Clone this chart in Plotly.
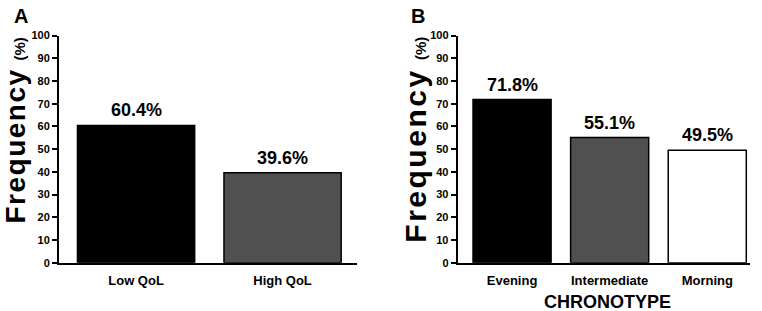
import plotly.graph_objects as go

# Data
qol_categories = ["Low QoL", "High QoL"]
qol_values = [60.4, 39.6]
qol_colors = ["#000000", "#505050"]

chrono_categories = ["Evening", "Intermediate", "Morning"]
chrono_values = [71.8, 55.1, 49.5]
chrono_colors = ["#000000", "#505050", "#ffffff"]

y_ticks = list(range(0, 101, 10))

W, H = 762, 311
FONT = "Liberation Sans"


def px_x(p):
    return p / W


def px_y(p):
    return 1 - p / H


fig = go.Figure()

fig.add_trace(go.Bar(
    x=qol_categories, y=qol_values, width=0.8,
    marker=dict(color=qol_colors, line=dict(color="#000000", width=1.5)),
    xaxis="x", yaxis="y", showlegend=False, hoverinfo="skip",
))
fig.add_trace(go.Bar(
    x=chrono_categories, y=chrono_values, width=0.8,
    marker=dict(color=chrono_colors, line=dict(color="#000000", width=1.5)),
    xaxis="x2", yaxis="y2", showlegend=False, hoverinfo="skip",
))

y_bottom, y_top = 267, 30.7
ydom = [px_y(y_bottom), px_y(y_top)]

tickfont = dict(family=FONT, size=11, color="#000000")
catfont = dict(family=FONT, size=13, color="#000000")

common_y = dict(
    range=[0, 100], tickvals=y_ticks, ticktext=[f"<b>{t}</b>" for t in y_ticks],
    showgrid=False, zeroline=False,
    showline=True, linecolor="#000000", linewidth=2,
    ticks="outside", ticklen=5, tickwidth=2, tickcolor="#000000",
    tickfont=tickfont, fixedrange=True,
)
common_x = dict(
    showgrid=False, zeroline=False, showline=True, linecolor="#000000",
    linewidth=2, ticks="", tickfont=catfont, fixedrange=True,
    ticklabelstandoff=5,
)

fig.update_layout(
    width=W, height=H,
    margin=dict(l=0, r=0, t=0, b=0),
    paper_bgcolor="#ffffff", plot_bgcolor="#ffffff",
    xaxis=dict(domain=[px_x(59), px_x(357)], range=[-0.526, 1.508],
               anchor="y", tickvals=qol_categories,
               ticktext=[f"<b>{c}</b>" for c in qol_categories], **common_x),
    yaxis=dict(domain=ydom, anchor="x", **common_y),
    xaxis2=dict(domain=[px_x(457.7), px_x(750)], range=[-0.557, 2.438],
                anchor="y2", tickvals=chrono_categories,
                ticktext=[f"<b>{c}</b>" for c in chrono_categories], **common_x),
    yaxis2=dict(domain=ydom, anchor="x2", **common_y),
    bargap=0.2,
)

annotations = []
for cats, vals, xr, yr in [(qol_categories, qol_values, "x", "y"),
                           (chrono_categories, chrono_values, "x2", "y2")]:
    for c, v in zip(cats, vals):
        annotations.append(dict(
            x=c, y=v, xref=xr, yref=yr, text=f"<b>{v:.1f}%</b>", showarrow=False,
            yanchor="bottom", yshift=3,
            font=dict(family=FONT, size=18, color="#000000"),
        ))

# Panel letters
annotations.append(dict(x=px_x(20.5), y=px_y(10), xref="paper", yref="paper",
                        text="<b>A</b>", showarrow=False,
                        xanchor="center", yanchor="middle",
                        font=dict(family=FONT, size=20, color="#000000")))
annotations.append(dict(x=px_x(418), y=px_y(10), xref="paper", yref="paper",
                        text="<b>B</b>", showarrow=False,
                        xanchor="center", yanchor="middle",
                        font=dict(family=FONT, size=20, color="#000000")))

# Y titles
def ytitle(spacing):
    return (f"<span style='letter-spacing:{spacing}px'><b>Frequency</b></span> "
            "<b><span style='font-size:15px'>(%)</span></b>")


annotations.append(dict(x=px_x(15.5), y=px_y(130), xref="paper", yref="paper",
                        text=ytitle(1.5), showarrow=False, textangle=-90,
                        xanchor="center", yanchor="middle",
                        font=dict(family=FONT, size=28, color="#000000")))
annotations.append(dict(x=px_x(416), y=px_y(139), xref="paper", yref="paper",
                        text=ytitle(2.5), showarrow=False, textangle=-90,
                        xanchor="center", yanchor="middle",
                        font=dict(family=FONT, size=30, color="#000000")))

# X title for panel B
annotations.append(dict(x=px_x(607), y=px_y(308), xref="paper", yref="paper",
                        text="<b>CHRONOTYPE</b>", showarrow=False,
                        xanchor="center", yanchor="middle",
                        font=dict(family=FONT, size=18, color="#000000")))

fig.update_layout(annotations=annotations)

fig.write_html("out.html")
